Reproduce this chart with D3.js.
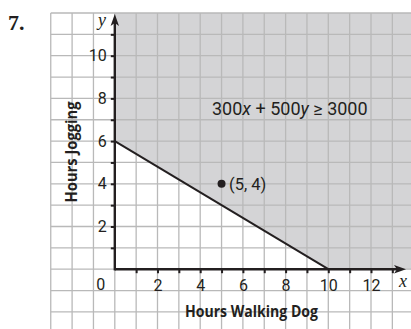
<!DOCTYPE html>
<html>
<head>
<meta charset="utf-8">
<script src="https://cdn.jsdelivr.net/npm/d3@7"></script>
<style>
  html, body { margin: 0; padding: 0; background: #fff; }
  svg { display: block; }
</style>
</head>
<body>
<script>
// Constraint 300x + 500y >= 3000, hours walking dog (x) vs hours jogging (y)
const coefX = 300, coefY = 500, budget = 3000;
const xTicks = [1, 2, 3, 4, 5, 6, 7, 8, 9, 10, 11, 12, 13];
const yTicks = [1, 2, 3, 4, 5, 6, 7, 8, 9, 10, 11];
const xTickLabels = [2, 4, 6, 8, 10, 12];
const yTickLabels = [2, 4, 6, 8, 10];
const testPoint = [5, 4];
const pointLabel = "(5, 4)";
const problemNumber = "7.";
const xTitle = "Hours Walking Dog";
const yTitle = "Hours Jogging";

const W = 411, H = 329;
const ink = "#231f20";

const svg = d3.select("body").append("svg")
  .attr("width", W).attr("height", H);

const x = d3.scaleLinear().domain([0, 10]).range([114.8, 328.3]);
const y = d3.scaleLinear().domain([0, 10]).range([269.2, 55.7]);

const gridXMin = -3, gridYMax = 12;
const gridXMax = x.invert(W + 2), gridYMin = y.invert(H + 2);

// Shaded solution region: bounded by the y-axis, the x-axis and the boundary line
const xInt = budget / coefX, yInt = budget / coefY;
const region = [[0, yInt], [xInt, 0], [gridXMax, 0], [gridXMax, gridYMax], [0, gridYMax]];
svg.append("path")
  .attr("d", d3.line().x(d => x(d[0])).y(d => y(d[1]))(region) + "Z")
  .attr("fill", "#d4d4d6");

// Grid
const grid = svg.append("g").attr("stroke", "#b9b9b9").attr("stroke-width", 1.3);
grid.selectAll("line.v").data(d3.range(gridXMin, Math.ceil(gridXMax) + 1))
  .join("line").attr("class", "v")
  .attr("x1", d => x(d)).attr("x2", d => x(d))
  .attr("y1", y(gridYMax)).attr("y2", H + 2);
grid.selectAll("line.h").data(d3.range(Math.floor(gridYMin), gridYMax + 1))
  .join("line").attr("class", "h")
  .attr("x1", x(gridXMin)).attr("x2", W + 2)
  .attr("y1", d => y(d)).attr("y2", d => y(d));

// Axes (ticks + labels)
const tickFont = "Roboto, 'DejaVu Sans', sans-serif";
const xAxis = svg.append("g").attr("transform", `translate(0,${y(0)})`)
  .call(d3.axisBottom(x).tickValues(xTicks).tickSize(4).tickPadding(6)
    .tickFormat(d => xTickLabels.includes(d) ? d : ""));
const yAxis = svg.append("g").attr("transform", `translate(${x(0)},0)`)
  .call(d3.axisLeft(y).tickValues(yTicks).tickSize(4).tickPadding(4)
    .tickFormat(d => yTickLabels.includes(d) ? d : ""));
[xAxis, yAxis].forEach(g => {
  g.select(".domain").remove();
  g.selectAll(".tick line").attr("stroke", ink).attr("stroke-width", 2);
  g.selectAll(".tick text").attr("fill", ink)
    .style("font-family", tickFont).style("font-size", "16px");
});
svg.append("text").text("0")
  .attr("x", x(0) - 14).attr("y", y(0) + 21)
  .attr("text-anchor", "middle").attr("fill", ink)
  .style("font-family", tickFont).style("font-size", "16px");

// Axis lines with arrowheads
const xEnd = 406, yEnd = 14;
svg.append("line").attr("x1", x(0)).attr("x2", xEnd - 6).attr("y1", y(0)).attr("y2", y(0))
  .attr("stroke", ink).attr("stroke-width", 2.4);
svg.append("line").attr("x1", x(0)).attr("x2", x(0)).attr("y1", y(0) + 1.2).attr("y2", yEnd + 6)
  .attr("stroke", ink).attr("stroke-width", 2.4);
svg.append("path")
  .attr("d", `M${xEnd},${y(0)} L${xEnd - 12},${y(0) - 4.2} L${xEnd - 9},${y(0)} L${xEnd - 12},${y(0) + 4.2}Z`)
  .attr("fill", ink);
svg.append("path")
  .attr("d", `M${x(0)},${yEnd} L${x(0) - 4.2},${yEnd + 12} L${x(0)},${yEnd + 9} L${x(0) + 4.2},${yEnd + 12}Z`)
  .attr("fill", ink);

// Axis variable names
svg.append("text").text("x").attr("x", 403).attr("y", 287)
  .attr("text-anchor", "middle").attr("fill", ink)
  .style("font-family", "'Liberation Serif', serif").style("font-style", "italic").style("font-size", "18px");
svg.append("text").text("y").attr("x", 102).attr("y", 26)
  .attr("text-anchor", "middle").attr("fill", ink)
  .style("font-family", "'Liberation Serif', serif").style("font-style", "italic").style("font-size", "18px");

// Boundary line 300x + 500y = 3000
svg.append("line")
  .attr("x1", x(0)).attr("y1", y(yInt)).attr("x2", x(xInt)).attr("y2", y(0))
  .attr("stroke", ink).attr("stroke-width", 2);

// Test point
svg.append("circle").attr("cx", x(testPoint[0])).attr("cy", y(testPoint[1])).attr("r", 4)
  .attr("fill", ink);
svg.append("text").text(pointLabel)
  .attr("x", x(testPoint[0]) + 7.5).attr("y", y(testPoint[1]) + 5.8)
  .attr("fill", ink).style("font-family", tickFont).style("font-size", "16.5px");

// Inequality label
const ineq = svg.append("text").attr("x", 212).attr("y", 114.5).attr("fill", ink)
  .style("font-family", tickFont).style("font-size", "18px");
ineq.append("tspan").text(coefX);
ineq.append("tspan").text("x").style("font-style", "italic");
ineq.append("tspan").text(" + " + coefY);
ineq.append("tspan").text("y").style("font-style", "italic");
ineq.append("tspan").text(" \u2265 " + budget);

// Axis titles (condensed bold)
const titleFont = "'Open Sans', Roboto, sans-serif";
svg.append("text").text(xTitle)
  .attr("x", 185).attr("y", 317)
  .attr("textLength", 133).attr("lengthAdjust", "spacingAndGlyphs")
  .attr("fill", ink)
  .style("font-family", titleFont).style("font-weight", "bold").style("font-size", "16.5px");
svg.append("text").text(yTitle)
  .attr("transform", `translate(77,202.5) rotate(-90)`)
  .attr("textLength", 101).attr("lengthAdjust", "spacingAndGlyphs")
  .attr("fill", ink)
  .style("font-family", titleFont).style("font-weight", "bold").style("font-size", "15.5px");

// Problem number
svg.append("text").text(problemNumber)
  .attr("x", 8).attr("y", 30).attr("fill", ink)
  .style("font-family", "'Liberation Serif', serif").style("font-weight", "bold").style("font-size", "22px");
</script>
</body>
</html>
